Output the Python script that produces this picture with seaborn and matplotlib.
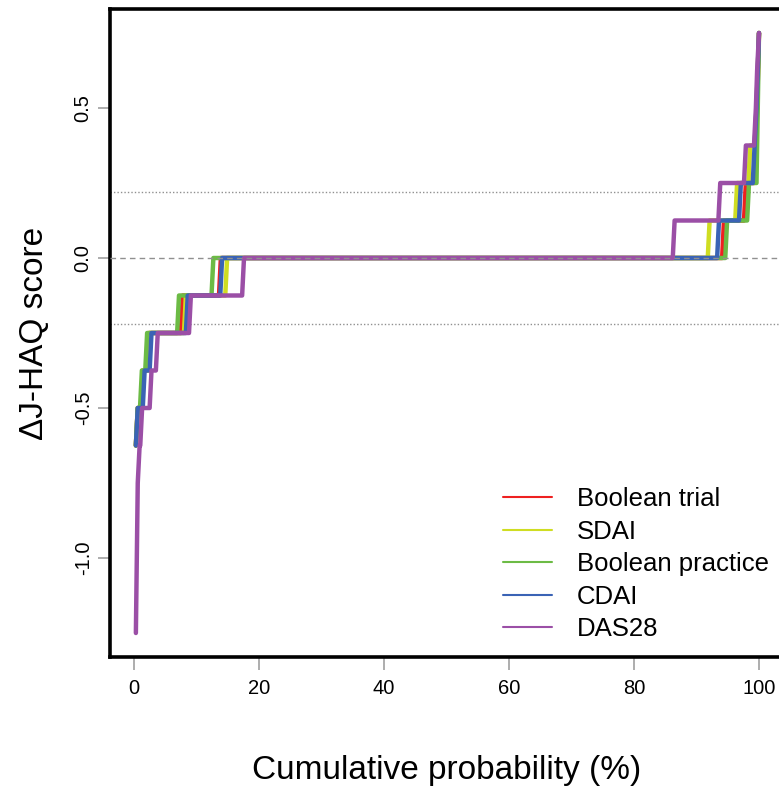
import numpy as np
import pandas as pd
import matplotlib
matplotlib.use("Agg")
import matplotlib.pyplot as plt
import seaborn as sns
from matplotlib.lines import Line2D

# ---- data: ECDF of change in J-HAQ (level, cumulative % at which level ends)
series_names = ["Boolean trial", "SDAI", "Boolean practice", "CDAI", "DAS28"]
series_colors = ["#EE2020", "#CFDD22", "#6CBB45", "#3A63B5", "#9B4FA6"]

levels_common = [-0.625, -0.5, -0.375, -0.25, -0.125, 0.0, 0.125, 0.25, 0.375, 0.5, 0.625, 0.75]
boolean_trial_ends = [0.3, 1.1, 2.1, 7.5, 13.6, 94.1, 97.6, 99.2, 99.5, 99.7, 99.85, 100]
sdai_ends = [0.3, 1.1, 2.2, 8.0, 14.6, 91.8, 96.2, 98.3, 99.3, 99.6, 99.8, 100]
boolean_practice_ends = [0.3, 0.96, 1.8, 6.9, 12.4, 94.6, 98.1, 99.6, 99.7, 99.8, 99.9, 100]
cdai_ends = [0.3, 1.4, 2.5, 8.3, 13.8, 93.3, 96.8, 99.0, 99.3, 99.6, 99.8, 100]
levels_das28 = [-1.25, -0.75, -0.625, -0.5, -0.375, -0.25, -0.125, 0.0, 0.125, 0.25, 0.375, 0.5, 0.625, 0.75]
das28_ends = [0.3, 0.6, 1.0, 2.5, 3.5, 8.8, 17.3, 86.2, 93.5, 97.6, 99.2, 99.5, 99.7, 100]

mcid = 0.22
x_ticks = [0, 20, 40, 60, 80, 100]
y_ticks = [-1.0, -0.5, 0.0, 0.5]
y_tick_labels = ["-1.0", "-0.5", "0.0", "0.5"]

step_gap = 0.3  # spacing between consecutive observations (%)


def build(levels, ends, name):
    xs, ys = [], []
    prev = 0.0
    for lv, e in zip(levels, ends):
        start = min(prev + step_gap, e)
        xs += [start, e]
        ys += [lv, lv]
        prev = e
    return pd.DataFrame({"x": xs, "y": ys, "series": name})


all_levels = [levels_common] * 4 + [levels_das28]
all_ends = [boolean_trial_ends, sdai_ends, boolean_practice_ends, cdai_ends, das28_ends]
df = pd.concat([build(l, e, n) for l, e, n in zip(all_levels, all_ends, series_names)],
               ignore_index=True)

sns.set_theme(style="white")
plt.rcParams["font.family"] = ["Liberation Sans", "DejaVu Sans"]
plt.rcParams["text.color"] = "black"
plt.rcParams["axes.labelcolor"] = "black"
plt.rcParams["xtick.color"] = "black"
plt.rcParams["ytick.color"] = "black"

W, H = 779, 786
fig = plt.figure(figsize=(W / 100, H / 100), dpi=100)
left, right, top, bottom = 110, 784, 9, 657
ax = fig.add_axes([left / W, (H - bottom) / H, (right - left) / W, (bottom - top) / H])

sns.lineplot(data=df, x="x", y="y", hue="series", hue_order=series_names,
             palette=dict(zip(series_names, series_colors)), sort=False,
             estimator=None, linewidth=3.2, ax=ax, legend=False)

ax.axhline(0, color="#909090", lw=1.0, ls=(0, (4, 3)), zorder=5)
for v in (mcid, -mcid):
    ax.axhline(v, color="#909090", lw=1.0, ls=(0, (1, 1.5)), zorder=1)

ax.set_xlim(-3.84, 104.0)
ax.set_ylim(-1.33, 0.83)
ax.set_xticks(x_ticks)
ax.set_xticklabels([str(t) for t in x_ticks])
ax.set_yticks(y_ticks)
ax.set_yticklabels(y_tick_labels, rotation=90, va="center")
ax.tick_params(axis="both", which="major", direction="out", length=9, width=1.2,
               color="#A0A0A0", labelsize=14.5, labelcolor="black",
               bottom=True, left=True)
ax.tick_params(axis="x", pad=7)
ax.tick_params(axis="y", pad=3.5)

for s in ["left", "top", "bottom", "right"]:
    ax.spines[s].set_color("black")
    ax.spines[s].set_linewidth(2.6)

ax.set_xlabel("Cumulative probability (%)", fontsize=24, labelpad=41, color="black")
ax.set_ylabel("\u0394J-HAQ score", fontsize=24, labelpad=17, color="black")

handles = [Line2D([0], [0], color=c, lw=1.5) for c in series_colors]
leg = ax.legend(handles, series_names, loc="upper left", bbox_to_anchor=(480 / W, 1 - 464 / H),
                bbox_transform=fig.transFigure, frameon=False, fontsize=18.5,
                handlelength=1.9, handletextpad=0.97, labelspacing=0.33)
for t in leg.get_texts():
    t.set_color("black")

fig.savefig("out.png", dpi=100)
